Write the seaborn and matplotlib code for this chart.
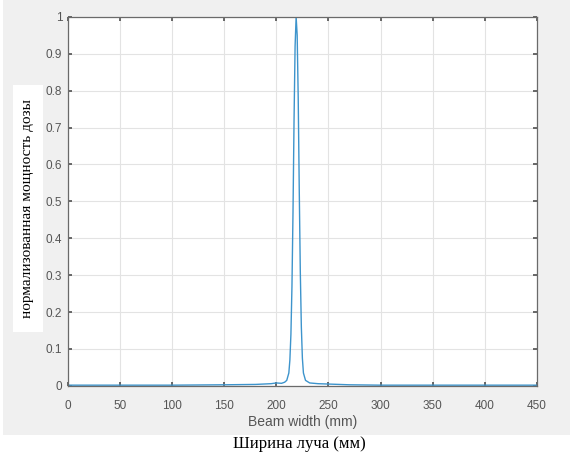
import matplotlib
matplotlib.use("Agg")
import matplotlib.pyplot as plt
import seaborn as sns
import pandas as pd
from matplotlib.patches import Rectangle

sns.set_theme(style="white")

# beam profile
beam_x = [0, 50, 100, 150, 180, 195, 200, 205, 208, 210, 212, 213, 214, 215, 216, 217,
          218, 219, 220, 221, 222, 223, 224, 225, 226, 228, 232, 240, 250, 270, 300, 350, 400, 450]
dose = [0.002, 0.002, 0.002, 0.003, 0.004, 0.006, 0.008, 0.007, 0.01, 0.015, 0.035, 0.07, 0.14,
        0.27, 0.47, 0.72, 0.92, 1.0, 0.95, 0.78, 0.53, 0.31, 0.16, 0.075, 0.035, 0.015, 0.008,
        0.006, 0.005, 0.003, 0.002, 0.002, 0.002, 0.002]
x_ticks = [0, 50, 100, 150, 200, 250, 300, 350, 400, 450]
y_ticks = [0, 0.1, 0.2, 0.3, 0.4, 0.5, 0.6, 0.7, 0.8, 0.9, 1]
y_tick_labels = ["0", "0.1", "0.2", "0.3", "0.4", "0.5", "0.6", "0.7", "0.8", "0.9", "1"]

df = pd.DataFrame({"x": beam_x, "y": dose})

fig = plt.figure(figsize=(5.7, 4.54), dpi=100)
fig.patch.set_facecolor("white")
# grey matlab figure area
fig.patches.append(Rectangle((0.005, 0.042), 0.995, 0.958, transform=fig.transFigure,
                             facecolor="#f0f0f0", edgecolor="none", zorder=-10))

ax = fig.add_axes([0.119, 0.150, 0.823, 0.813])
ax.set_zorder(1)
ax.set_facecolor("white")
sns.lineplot(data=df, x="x", y="y", ax=ax, color="#3d94cc", linewidth=1.0)

ax.set_xlim(0, 450)
ax.set_ylim(0, 1)
ax.set_xticks(x_ticks)
ax.set_xticklabels([str(v) for v in x_ticks])
ax.set_yticks(y_ticks)
ax.set_yticklabels(y_tick_labels)
ax.grid(True, color="#e3e3e3", linewidth=0.8)
ax.tick_params(direction="in", length=3, color="#555555", labelcolor="#555555",
               labelsize=8.5, top=True, right=True, bottom=True, left=True)
ax.tick_params(axis="x", pad=10)
ax.tick_params(axis="y", pad=4)
for lab in ax.get_xticklabels() + ax.get_yticklabels():
    lab.set_family("Liberation Sans")
for s in ax.spines.values():
    s.set_color("#6a6a6a")
    s.set_linewidth(0.9)

ax.set_xlabel("Beam width (mm)", family="Liberation Sans", fontsize=10, color="#555555", labelpad=2)
ax.set_ylabel("")

# russian labels pasted over the picture
fig.patches.append(Rectangle((0.023, 0.269), 0.053, 0.544, transform=fig.transFigure,
                             facecolor="white", edgecolor="none", zorder=4))
fig.text(0.049, 0.541, "нормализованная мощность дозы", rotation=90, ha="center", va="center",
         family="Liberation Serif", fontsize=11, color="black", zorder=5)
fig.text(0.525, 0.022, "Ширина луча (мм)", ha="center", va="center",
         family="Liberation Serif", fontsize=12, color="black")

fig.savefig("out.png", dpi=100)
